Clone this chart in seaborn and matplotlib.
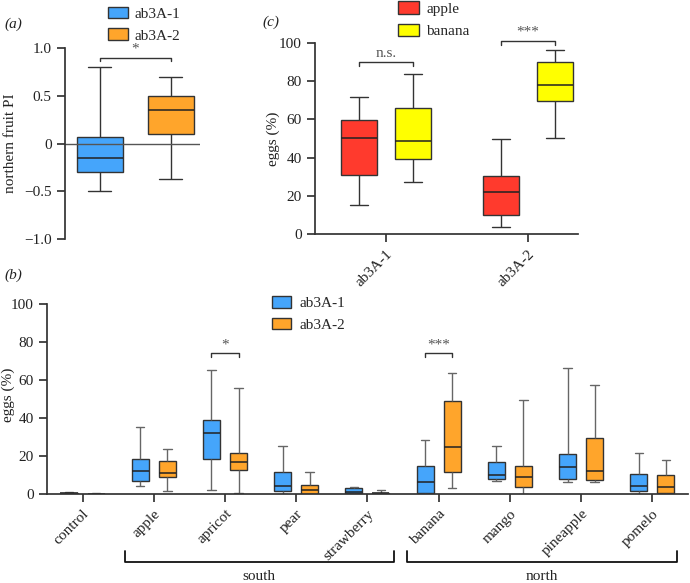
import matplotlib
matplotlib.use("Agg")
import matplotlib.pyplot as plt
import matplotlib.transforms as mtransforms
from matplotlib.patches import Patch
import seaborn as sns
import pandas as pd

# five-number summaries: [min, q1, median, q3, max]
STRAINS = ["ab3A-1", "ab3A-2"]
STRAIN_COLORS = ["#45a5fb", "#ffa52b"]

# panel (a) northern fruit preference index
PI_AB3A1 = [-0.5, -0.3, -0.15, 0.07, 0.8]
PI_AB3A2 = [-0.37, 0.1, 0.35, 0.5, 0.7]

# panel (c) eggs (%) apple vs banana
C_FRUITS = ["apple", "banana"]
C_COLORS = ["#ff3a2d", "#ffff00"]
C_APPLE = [[15, 31, 50.5, 59.5, 72], [3.7, 9.8, 22, 30.2, 49.8]]
C_BANANA = [[27, 39.5, 48.5, 66, 84], [50.5, 69.7, 77.8, 90, 96.3]]

# panel (b) eggs (%) per fruit
B_FRUITS = ["control", "apple", "apricot", "pear", "strawberry",
            "banana", "mango", "pineapple", "pomelo"]
B_AB3A1 = [
    [0, 0, 0.3, 0.5, 0.8],
    [4, 6.6, 12, 18.3, 35.5],
    [2.3, 18.2, 32, 38.8, 65.3],
    [0, 1.4, 4.2, 11.5, 25],
    [0, 0.3, 1, 3.1, 3.8],
    [0, 0.7, 6.5, 14.5, 28.6],
    [7, 7.8, 9.9, 16.8, 25.1],
    [6.5, 8.1, 14, 21.1, 66.3],
    [0, 1.7, 4, 10.3, 21.8],
]
B_AB3A2 = [
    [0, 0, 0.1, 0.2, 0.3],
    [1.7, 8.9, 10.8, 17.3, 23.6],
    [0.5, 12.6, 16.8, 21.5, 55.5],
    [0, 0.2, 1.9, 4.9, 11.4],
    [0, 0, 0.4, 0.6, 1.9],
    [3.1, 11.5, 24.8, 49, 63.9],
    [0, 3.9, 9, 14.6, 49.4],
    [6.2, 7.1, 12, 29.5, 57.5],
    [0, 0.5, 3.5, 9.8, 17.8],
]

OUTPUT_PATH = "out.png"
TEXT = "#222222"
LINE = "#333333"


def long_frame(groups, values, x_name, hue_name=None, hues=None):
    rows = []
    if hues is None:
        for g, vals in zip(groups, values):
            rows += [{x_name: g, "value": v} for v in vals]
    else:
        for h, series in zip(hues, values):
            for g, vals in zip(groups, series):
                rows += [{x_name: g, hue_name: h, "value": v} for v in vals]
    return pd.DataFrame(rows)


def bracket(ax, x0, x1, y, drop, label, fs=11):
    ax.plot([x0, x0, x1, x1], [y - drop, y, y, y - drop], color=LINE,
            lw=1, clip_on=False)
    ax.text((x0 + x1) / 2, y + drop * 0.6, label, ha="center", va="bottom",
            fontsize=fs, color="#555555", clip_on=False)


def rotate_labels(ax):
    ax.tick_params(axis="x", labelrotation=45)
    for lab in ax.get_xticklabels():
        lab.set_ha("right")
        lab.set_rotation_mode("anchor")


def main() -> None:
    sns.set_theme(style="ticks")
    plt.rcParams["font.family"] = ["Liberation Serif", "DejaVu Serif"]
    plt.rcParams["axes.edgecolor"] = LINE
    plt.rcParams["xtick.color"] = LINE
    plt.rcParams["ytick.color"] = LINE
    plt.rcParams["xtick.labelcolor"] = TEXT
    plt.rcParams["ytick.labelcolor"] = TEXT

    fig = plt.figure(figsize=(6.9, 5.83), dpi=100)
    box_kw = dict(whis=(0, 100), saturation=1, linecolor=LINE, linewidth=1,
                  medianprops=dict(color="#222222", lw=1.1))

    # ---------------- panel (a)
    ax_a = fig.add_axes([0.0942, 0.590, 0.1957, 0.3276])
    df_a = long_frame(STRAINS, [PI_AB3A1, PI_AB3A2], "strain")
    sns.boxplot(data=df_a, x="strain", y="value", hue="strain",
                palette=STRAIN_COLORS, width=0.65, legend=False, ax=ax_a,
                **box_kw)
    ax_a.axhline(0, color="#555555", lw=1)
    ax_a.set_xlim(-0.49, 1.41)
    ax_a.set_ylim(-1, 1)
    ax_a.set_yticks([-1, -0.5, 0, 0.5, 1])
    ax_a.set_yticklabels(["\u22121.0", "\u22120.5", "0", "0.5", "1.0"])
    ax_a.set_xticks([])
    ax_a.set_xlabel("")
    ax_a.set_ylabel("northern fruit PI", fontsize=11, color=TEXT)
    ax_a.yaxis.set_label_coords(-0.356, 0.5)
    sns.despine(ax=ax_a, bottom=True)
    bracket(ax_a, 0, 1, 0.9, 0.04, "*")
    ax_a.legend(handles=[Patch(facecolor=c, edgecolor=LINE, label=s)
                         for s, c in zip(STRAINS, STRAIN_COLORS)],
                loc="upper left", bbox_to_anchor=(0.148, 0.999),
                bbox_transform=fig.transFigure, frameon=False, fontsize=11,
                handlelength=1.3, handleheight=0.8, labelspacing=0.5,
                handletextpad=0.4, borderaxespad=0)

    # ---------------- panel (c)
    ax_c = fig.add_axes([0.4565, 0.5986, 0.381, 0.3276])
    df_c = long_frame(STRAINS, [C_APPLE, C_BANANA], "strain", "fruit",
                      C_FRUITS)
    sns.boxplot(data=df_c, x="strain", y="value", hue="fruit",
                palette=C_COLORS, width=0.76, gap=0.34, legend=False,
                ax=ax_c, **box_kw)
    ax_c.set_xlim(-0.5, 1.35)
    ax_c.set_ylim(0, 100)
    ax_c.set_yticks(range(0, 101, 20))
    ax_c.set_xlabel("")
    ax_c.set_ylabel("eggs (%)", fontsize=11, color=TEXT)
    ax_c.yaxis.set_label_coords(-0.133, 0.5)
    rotate_labels(ax_c)
    sns.despine(ax=ax_c)
    bracket(ax_c, -0.19, 0.19, 90, 2, "n.s.")
    bracket(ax_c, 0.81, 1.19, 101, 2, "***")
    ax_c.legend(handles=[Patch(facecolor=c, edgecolor=LINE, label=f)
                         for f, c in zip(C_FRUITS, C_COLORS)],
                loc="upper left", bbox_to_anchor=(0.568, 1.008),
                bbox_transform=fig.transFigure, frameon=False, fontsize=11,
                handlelength=1.35, handleheight=0.9, labelspacing=0.5,
                handletextpad=0.5, borderaxespad=0)

    # ---------------- panel (b)
    ax_b = fig.add_axes([0.068, 0.1527, 0.929, 0.326])
    df_b = long_frame(B_FRUITS, [B_AB3A1, B_AB3A2], "fruit", "strain",
                      STRAINS)
    sns.boxplot(data=df_b, x="fruit", y="value", hue="strain",
                palette=STRAIN_COLORS, width=0.76, gap=0.37, legend=False,
                ax=ax_b, whiskerprops=dict(color="#666666"),
                capprops=dict(color="#666666"), **box_kw)
    ax_b.set_xlim(-0.5, 8.5)
    ax_b.set_ylim(0, 100)
    ax_b.set_yticks(range(0, 101, 20))
    ax_b.set_xlabel("")
    ax_b.set_ylabel("eggs (%)", fontsize=11, color=TEXT)
    ax_b.yaxis.set_label_coords(-0.05, 0.52)
    rotate_labels(ax_b)
    sns.despine(ax=ax_b)
    bracket(ax_b, 1.81, 2.19, 74, 2, "*")
    bracket(ax_b, 4.81, 5.19, 74, 2, "***")
    ax_b.legend(handles=[Patch(facecolor=c, edgecolor=LINE, label=s)
                         for s, c in zip(STRAINS, STRAIN_COLORS)],
                loc="upper left", bbox_to_anchor=(0.386, 0.503),
                bbox_transform=fig.transFigure, frameon=False, fontsize=11,
                handlelength=1.2, handleheight=0.8, labelspacing=0.5,
                handletextpad=0.6, borderaxespad=0)

    # south / north groupings below the axis
    trans = mtransforms.blended_transform_factory(ax_b.transData,
                                                  ax_b.transAxes)
    for x0, x1, name in [(0.59, 4.37, "south"), (4.56, 8.35, "north")]:
        ax_b.plot([x0, x0, x1, x1], [-0.30, -0.358, -0.358, -0.30],
                  color="#111111", lw=1.3, transform=trans, clip_on=False)
        ax_b.text((x0 + x1) / 2, -0.40, name, ha="center", va="top",
                  fontsize=11, color=TEXT, transform=trans)

    # panel letters
    for x, y, letter in [(0.006, 0.959, "a"), (0.006, 0.528, "b"),
                         (0.381, 0.961, "c")]:
        fig.text(x, y, f"({letter})", fontsize=11, color=TEXT,
                 fontstyle="italic", va="center")

    fig.savefig(OUTPUT_PATH, dpi=100)


if __name__ == "__main__":
    main()
